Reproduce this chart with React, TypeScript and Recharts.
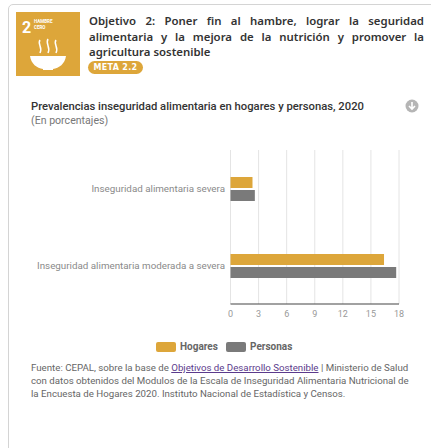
import React from "react";
import { BarChart, Bar, XAxis, YAxis, CartesianGrid, Legend } from "recharts";

const categories = ["Inseguridad alimentaria severa", "Inseguridad alimentaria moderada a severa"];
const hogares = [2.35, 16.4];
const personas = [2.6, 17.7];
const ticks = [0, 3, 6, 9, 12, 15, 18];
const data = categories.map((c, i) => ({ c, Hogares: hogares[i], Personas: personas[i] }));

const GOLD = "#DDA63A";
const GRAY = "#7a7a7a";

const abs = (left: number, top: number, extra: React.CSSProperties = {}): React.CSSProperties => ({
  position: "absolute", left, top, ...extra,
});

function LegendContent() {
  const items = [["Hogares", GOLD, 156, 180], ["Personas", GRAY, 226, 250]] as const;
  return (
    <div style={{ position: "relative", width: 431, height: 14 }}>
      {items.map(([n, col, sx, tx]) => (
        <React.Fragment key={n}>
          <span style={abs(sx, 2, { width: 20, height: 10, background: col, borderRadius: 2 })} />
          <span style={abs(tx, 0, { font: "700 10px Roboto", color: "#666", lineHeight: "14px" })}>{n}</span>
        </React.Fragment>
      ))}
    </div>
  );
}

function CategoryTick(props: any) {
  return (
    <text x={225} y={props.y} dy={3} textAnchor="end" fontFamily="Roboto" fontSize={9.8} fill="#8a8a8a">
      {props.payload.value}
    </text>
  );
}

export default function App() {
  return (
    <div style={{ position: "absolute", left: 0, top: 0, width: 431, height: 448, background: "#fff", overflow: "hidden" }}>
      <div style={abs(8, 4, { width: 440, height: 460, border: "1px solid #d4d4d4", borderRadius: 5, boxSizing: "border-box" })} />
      <svg width={64} height={64} style={abs(16, 12)}>
        <rect width={64} height={64} fill={GOLD} />
        <text x={6} y={21} fill="#fff" fontFamily="Roboto" fontWeight={700} fontSize={16}>2</text>
        <text x={18} y={11} fill="#fff" fontFamily="Roboto" fontWeight={700} fontSize={4.5}>HAMBRE</text>
        <text x={18} y={17} fill="#fff" fontFamily="Roboto" fontWeight={700} fontSize={4.5}>CERO</text>
        <path d="M14 44 H50 C49 52 43 56 37 57 V58 H27 V57 C21 56 15 52 14 44 Z" fill="#fff" />
        <path d="M24 28 C21 32 27 35 24 41 M32 27 C29 32 35 35 32 41 M40 28 C37 32 43 35 40 41" fill="none" stroke="#fff" strokeWidth={1.5} />
      </svg>
      <div style={abs(89, 13, { width: 335, font: "600 11.4px/15.5px 'Noto Sans'", color: "#333", textAlign: "justify" })}>
        Objetivo 2: Poner fin al hambre, lograr la seguridad alimentaria y la mejora de la nutrición y promover la agricultura sostenible
      </div>
      <div style={abs(88, 61, { width: 55, height: 13, borderRadius: 7, background: GOLD, color: "#fff", font: "700 8px/13px 'DejaVu Sans'", textAlign: "center", letterSpacing: 0.3 })}>
        META 2.2
      </div>
      <div style={abs(31, 100, { font: "500 11.25px/14px Roboto", color: "#333", whiteSpace: "nowrap" })}>
        Prevalencias inseguridad alimentaria en hogares y personas, 2020
      </div>
      <div style={abs(31, 115, { font: "400 10.6px/12px Roboto", color: "#777" })}>(En porcentajes)</div>
      <svg width={14} height={14} style={abs(405, 99)}>
        <circle cx={7} cy={7} r={6.5} fill="#b5b5b5" />
        <path d="M7 3 V10 M4 7 L7 10 L10 7" fill="none" stroke="#fff" strokeWidth={1.6} />
      </svg>
      <div style={abs(0, 0)}>
        <BarChart
          width={431}
          height={340}
          data={data}
          layout="vertical"
          barGap={2}
          margin={{ top: 150, right: 32, bottom: 6, left: 0 }}
        >
          <CartesianGrid horizontal={false} stroke="#e4e4e4" strokeWidth={1} />
          <XAxis
            type="number"
            domain={[0, 18]}
            ticks={ticks}
            interval={0}
            axisLine={{ stroke: "#444", strokeWidth: 1.2 }}
            tickLine={false}
            height={16}
            tick={{ fontSize: 9, fontFamily: "Roboto", fill: "#999", dy: -1 }}
          />
          <YAxis
            type="category"
            dataKey="c"
            width={230.5}
            axisLine={false}
            tickLine={false}
            interval={0}
            tick={<CategoryTick />}
          />
          <Legend wrapperStyle={{ left: 0, top: 340, width: 431 }} content={() => <LegendContent />} />
          <Bar dataKey="Hogares" fill={GOLD} barSize={11} isAnimationActive={false} />
          <Bar dataKey="Personas" fill={GRAY} barSize={11} isAnimationActive={false} />
        </BarChart>
      </div>
      <div style={abs(31, 361, { width: 385, font: "400 9.7px/13px Roboto", color: "#666", whiteSpace: "nowrap" })}>
        Fuente: CEPAL, sobre la base de <span style={{ color: "#5b3a8c", textDecoration: "underline" }}>Objetivos de Desarrollo Sostenible</span> | Ministerio de Salud<br />
        con datos obtenidos del Modulos de la Escala de Inseguridad Alimentaria Nutricional de<br />
        la Encuesta de Hogares 2020. Instituto Nacional de Estadística y Censos.
      </div>
    </div>
  );
}
